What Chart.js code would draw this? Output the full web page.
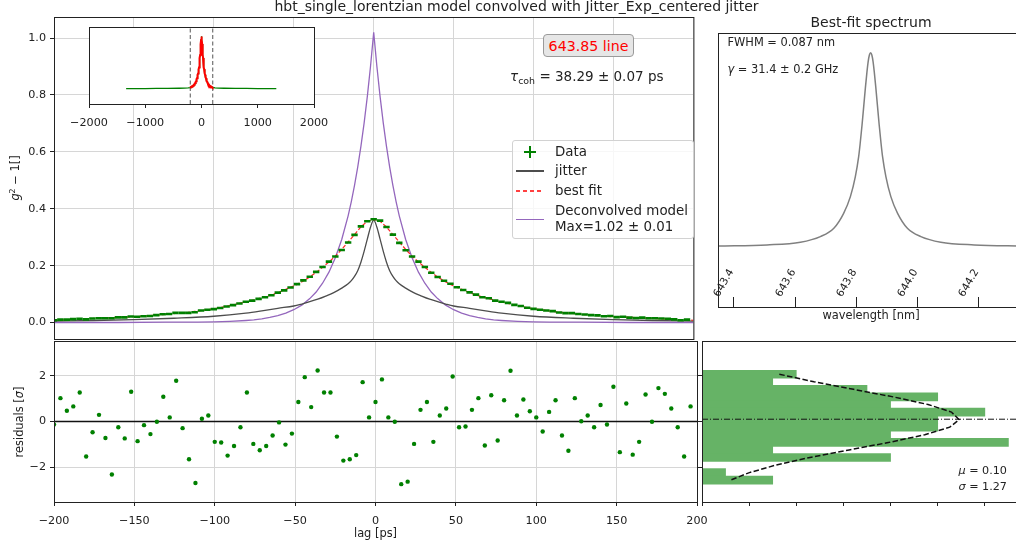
<!DOCTYPE html>
<html>
<head>
<meta charset="utf-8">
<title>hbt single lorentzian fit</title>
<script src="https://cdn.jsdelivr.net/npm/chart.js@4.4.0/dist/chart.umd.min.js"></script>
<style>
  html, body { margin: 0; padding: 0; background: #fff; }
  body { position: relative; width: 1016px; height: 554px; overflow: hidden;
         font-family: 'DejaVu Sans', sans-serif; color: #222; }
  canvas { position: absolute; }
  .t { position: absolute; white-space: nowrap; line-height: 1; z-index: 5; }
  .c { transform: translate(-50%, -50%); }
  .l { transform: translate(0, -50%); }
  .r { transform: translate(-100%, -50%); }
  .v { transform: translate(-50%, -50%) rotate(-90deg); }
  sup { font-size: 0.7em; vertical-align: 0.5em; line-height: 0; }
  sub { font-size: 0.7em; vertical-align: -0.3em; line-height: 0; }
  #legend { position: absolute; left: 512px; top: 140px; width: 182px; height: 99px; box-sizing: border-box;
            border: 1px solid #d2d2d2; border-radius: 3px; background: rgba(255,255,255,0.8);
            z-index: 4; font-size: 13.4px; }
  #legend .h { position: absolute; }
  #tag { position: absolute; left: 543px; top: 34px; width: 91px; height: 23px; box-sizing: border-box;
         border: 1px solid #9a9a9a; border-radius: 4px; background: #e6e6e6; color: #ff0000;
         font-size: 14.2px; display: flex; align-items: center; justify-content: center; z-index: 5; }
</style>
</head>
<body>
<canvas id="main" width="700" height="347" style="left:0;top:0;z-index:1"></canvas>
<canvas id="resid" width="712" height="224" style="left:0;top:330px;z-index:1"></canvas>
<canvas id="hist" width="345" height="224" style="left:690px;top:330px;z-index:1"></canvas>
<canvas id="spec" width="330" height="300" style="left:706px;top:20px;z-index:1"></canvas>
<canvas id="inset" width="280" height="125" style="left:60px;top:15px;z-index:2"></canvas>

<div class="t c" style="left:516.5px;top:6px;font-size:14px">hbt_single_lorentzian model convolved with Jitter_Exp_centered jitter</div>
<div class="t c" style="left:871px;top:21.7px;font-size:14px">Best-fit spectrum</div>
<div id="tag">643.85 line</div>
<div class="t l" style="left:510px;top:76.7px;font-size:13.5px"><i>τ</i><sub>coh</sub> = 38.29 ± 0.07 ps</div>
<div class="t l" style="left:727.5px;top:42.8px;font-size:11.4px">FWHM = 0.087 nm</div>
<div class="t l" style="left:727.5px;top:69.8px;font-size:11.4px"><i>γ</i> = 31.4 ± 0.2 GHz</div>
<div class="t r" style="left:1007px;top:470.8px;font-size:11.2px"><i>μ</i> = 0.10</div>
<div class="t r" style="left:1007px;top:486.7px;font-size:11.2px"><i>σ</i> = 1.27</div>
<div class="t v" style="left:16px;top:178px;font-size:11.4px"><i>g</i><sup>2</sup> − 1[]</div>
<div class="t v" style="left:19.5px;top:421.5px;font-size:11.4px">residuals [<i>σ</i>]</div>
<div class="t c" style="left:375.5px;top:534px;font-size:11.4px">lag [ps]</div>
<div class="t c" style="left:871px;top:315.8px;font-size:11.4px">wavelength [nm]</div>

<div id="legend">
  <div class="h" style="left:11px;top:9.7px;width:12px;height:2px;background:#008000"></div>
  <div class="h" style="left:16px;top:4.7px;width:2px;height:12px;background:#008000"></div>
  <div class="t l" style="left:42px;top:10.7px">Data</div>
  <div class="h" style="left:3px;top:29.3px;width:28px;height:1.4px;background:#4d4d4d"></div>
  <div class="t l" style="left:42px;top:30px">jitter</div>
  <div class="h" style="left:3px;top:49px;width:28px;height:1.5px;background:repeating-linear-gradient(to right,#ff4040 0px,#ff4040 4.5px,#ffffff 4.5px,#ffffff 7px)"></div>
  <div class="t l" style="left:42px;top:50px">best fit</div>
  <div class="h" style="left:3px;top:77.6px;width:28px;height:1.4px;background:#9467bd"></div>
  <div class="t l" style="left:42px;top:70px">Deconvolved model</div>
  <div class="t l" style="left:42px;top:85.7px">Max=1.02 ± 0.01</div>
</div>

<script>
// lag axis of the measured g2 (ps)
const lag = [-200,-196,-192,-188,-184,-180,-176,-172,-168,-164,
  -160,-156,-152,-148,-144,-140,-136,-132,-128,-124,
  -120,-116,-112,-108,-104,-100,-96,-92,-88,-84,
  -80,-76,-72,-68,-64,-60,-56,-52,-48,-44,
  -40,-36,-32,-28,-24,-20,-16,-12,-8,-4,
  0,4,8,12,16,20,24,28,32,36,
  40,44,48,52,56,60,64,68,72,76,
  80,84,88,92,96,100,104,108,112,116,
  120,124,128,132,136,140,144,148,152,156,
  160,164,168,172,176,180,184,188,192,196]

const g2Data = [0.008,0.010,0.010,0.012,0.013,0.011,0.014,0.015,0.015,0.015,
  0.018,0.018,0.021,0.020,0.022,0.023,0.026,0.029,0.030,0.034,
  0.034,0.034,0.036,0.042,0.045,0.047,0.051,0.056,0.061,0.067,
  0.073,0.077,0.083,0.089,0.096,0.105,0.113,0.123,0.135,0.148,
  0.161,0.178,0.195,0.214,0.232,0.255,0.281,0.308,0.338,0.356,
  0.363,0.358,0.336,0.309,0.280,0.254,0.232,0.214,0.195,0.175,
  0.160,0.147,0.136,0.124,0.114,0.106,0.098,0.089,0.085,0.077,
  0.073,0.069,0.062,0.058,0.052,0.048,0.045,0.042,0.040,0.035,
  0.033,0.033,0.030,0.028,0.026,0.025,0.022,0.023,0.019,0.020,
  0.017,0.016,0.017,0.015,0.015,0.014,0.013,0.011,0.008,0.010]

const residuals = [-0.13,1.02,0.47,0.66,1.27,-1.53,-0.47,0.29,-0.72,-2.32,
  -0.25,-0.74,1.30,-0.86,-0.16,-0.55,-0.01,1.08,0.18,1.78,
  -0.29,-1.65,-2.69,0.12,0.26,-0.89,-0.92,-1.49,-1.07,-0.25,
  1.27,-0.98,-1.26,-1.07,-0.61,-0.04,-1.01,-0.53,0.85,1.94,
  0.63,2.23,1.27,1.27,-0.66,-1.71,-1.65,-1.47,1.72,0.18,
  0.85,1.84,0.18,-0.01,-2.74,-2.63,-0.98,0.51,0.85,-0.89,
  0.26,0.57,1.97,-0.25,-0.22,0.51,1.02,-1.05,1.15,-0.83,
  0.93,2.22,0.26,0.96,0.45,0.18,-0.44,0.42,0.93,-0.61,
  -1.28,1.02,0.01,0.26,-0.25,0.72,-0.13,1.52,-1.34,0.79,
  -1.45,-0.89,1.18,-0.01,1.46,1.21,0.57,-0.25,-1.53,0.66]

// best fit, same lags plus the right edge
const fitLag = lag.concat([200])
const fitG2 = [0.008,0.009,0.010,0.011,0.012,0.013,0.014,0.015,0.016,0.017,
  0.018,0.019,0.020,0.021,0.022,0.024,0.026,0.028,0.030,0.032,
  0.034,0.036,0.039,0.042,0.045,0.048,0.052,0.057,0.062,0.067,
  0.072,0.078,0.084,0.090,0.097,0.105,0.114,0.124,0.134,0.146,
  0.160,0.176,0.194,0.213,0.233,0.257,0.283,0.309,0.336,0.356,
  0.362,0.356,0.336,0.309,0.283,0.257,0.233,0.213,0.194,0.176,
  0.160,0.146,0.134,0.124,0.114,0.105,0.097,0.090,0.084,0.078,
  0.072,0.067,0.062,0.057,0.052,0.048,0.045,0.042,0.039,0.036,
  0.034,0.032,0.030,0.028,0.026,0.024,0.022,0.021,0.020,0.019,
  0.018,0.017,0.016,0.015,0.014,0.013,0.012,0.011,0.010,0.009,
  0.008]

const jitterLag = [-200,-175,-150,-125,-100,-80,-70,-60,-50,-45,-40,-35,-30,-25,-20,-16,-14,-12,-10,-8,-6,-4,-2,
  0,2,4,6,8,10,12,14,16,20,25,30,35,40,45,50,60,70,80,100,125,150,175,200]
const jitterG2 = [0.005,0.007,0.010,0.015,0.022,0.033,0.041,0.050,0.058,0.065,0.073,0.082,0.093,0.105,0.121,0.136,0.147,0.162,0.182,0.212,0.250,0.293,0.335,
  0.360,0.335,0.293,0.250,0.212,0.182,0.162,0.147,0.136,0.121,0.105,0.093,0.082,0.073,0.065,0.058,0.050,0.041,0.033,0.022,0.015,0.010,0.007,0.005]

const deconvLag = [-200,-160,-130,-110,-100,-90,-80,-75,-70,-65,-60,-55,-50,-45,-40,-36,-32,-28,-24,-20,-16,-14,-12,-10,-8,-6,-4,-2,
  0,2,4,6,8,10,12,14,16,20,24,28,32,36,40,45,50,55,60,65,70,75,80,90,100,110,130,160,200]
const deconvG2 = [0.000,0.000,0.001,0.001,0.002,0.004,0.007,0.009,0.013,0.018,0.024,0.033,0.045,0.061,0.084,0.107,0.138,0.177,0.228,0.292,0.375,0.425,0.482,0.546,0.619,0.701,0.794,0.900,
  1.020,0.900,0.794,0.701,0.619,0.546,0.482,0.425,0.375,0.292,0.228,0.177,0.138,0.107,0.084,0.061,0.045,0.033,0.024,0.018,0.013,0.009,0.007,0.004,0.002,0.001,0.001,0.000,0.000]

// wide-range data shown in the inset (outside the +-200 ps window)
const insetLeftLag = [-1340,-1200,-1000,-800,-600,-400,-300,-240]
const insetLeftG2 = [0.000,0.001,0.001,0.002,0.002,0.003,0.004,0.006]
const insetRightLag = [240,300,400,600,800,1000,1200,1330]
const insetRightG2 = [0.006,0.004,0.003,0.002,0.002,0.001,0.001,0.000]
const fitWindow = 200

// residual histogram
const binCenter = [2.068,1.737,1.406,1.075,0.744,0.413,0.082,-0.249,-0.580,-0.911,-1.242,-1.573,-1.904,-2.235,-2.566]
const binCount = [4,3,7,10,8,12,10,10,8,13,3,8,0,1,3]
const gaussCount = [3.28,4.75,6.43,8.12,9.59,10.58,10.91,10.51,9.45,7.95,6.24,4.58,3.14,2.01,1.20]
const residMean = 0.10

// best-fit spectrum
const specWl = [643.350,643.510,643.619,643.684,643.728,643.760,643.782,643.798,643.809,643.814,643.820,
  643.826,643.831,643.836,643.840,643.844,643.848,643.852,643.856,643.860,643.865,643.870,
  643.876,643.882,643.887,643.898,643.914,643.936,643.968,644.012,644.077,644.186,644.350]
const specI = [0.003,0.009,0.023,0.052,0.095,0.172,0.258,0.360,0.464,0.533,0.627,
  0.732,0.820,0.900,0.954,0.988,1.000,0.988,0.954,0.900,0.820,0.732,
  0.627,0.533,0.464,0.360,0.258,0.172,0.095,0.052,0.023,0.009,0.003]

// tick values
const lagTicks = [-200,-150,-100,-50,0,50,100,150,200]
const g2Ticks = [0,0.2,0.4,0.6,0.8,1.0]
const residTicks = [-2,0,2]
const countTicks = [0,2,4,6,8,10,12,14]
const insetTicks = [-2000,-1000,0,1000,2000]
const specTicks = [643.4,643.6,643.8,644.0,644.2]

Chart.defaults.font.family = "'DejaVu Sans', sans-serif"
Chart.defaults.font.size = 11.2
Chart.defaults.color = '#222'

const GRID = '#d6d6d6'
const INK = '#222'
const GREEN = '#008000'

const minus = v => String(v).replace('-', '\u2212')
const points = (xs, ys) => xs.map((x, i) => ({ x, y: ys[i] }))

// force the axis band to a given size so the plot areas line up between canvases
function fixSize(size) {
  return scale => {
    if (scale.isHorizontal()) scale.height = size
    else scale.width = size
    scale.paddingLeft = scale.paddingRight = scale.paddingTop = scale.paddingBottom = 0
  }
}
function useTicks(values) {
  return scale => { scale.ticks = values.map(value => ({ value })) }
}

// matplotlib-like box round each axes, optional white face
const framePlugin = {
  id: 'frame',
  beforeDraw(chart, args, opts) {
    if (!opts.fill) return
    const { ctx, chartArea: a } = chart
    ctx.save()
    ctx.fillStyle = opts.fill
    ctx.fillRect(a.left, a.top, a.right - a.left, a.bottom - a.top)
    ctx.restore()
  },
  afterDraw(chart) {
    const { ctx, chartArea: a } = chart
    ctx.save()
    ctx.strokeStyle = INK
    ctx.lineWidth = 1
    ctx.strokeRect(a.left + 0.5, a.top + 0.5, a.right - a.left, a.bottom - a.top)
    ctx.restore()
  }
}

// inward ticks with slanted labels inside the spectrum axes
const specTickPlugin = {
  id: 'specTicks',
  afterDraw(chart) {
    const { ctx, chartArea: a, scales: { x } } = chart
    ctx.save()
    ctx.strokeStyle = INK
    ctx.fillStyle = INK
    ctx.lineWidth = 1
    ctx.font = "10.5px 'DejaVu Sans', sans-serif"
    ctx.textAlign = 'right'
    ctx.textBaseline = 'middle'
    specTicks.forEach(v => {
      const px = Math.round(x.getPixelForValue(v)) + 0.5
      ctx.beginPath()
      ctx.moveTo(px, a.bottom)
      ctx.lineTo(px, a.bottom - 10)
      ctx.stroke()
      ctx.save()
      ctx.translate(px - 2, a.bottom - 37)
      ctx.rotate(-Math.PI / 3)
      ctx.fillText(v.toFixed(1), 0, 0)
      ctx.restore()
    })
    ctx.restore()
  }
}

function baseOptions(padding) {
  return {
    responsive: false,
    animation: false,
    devicePixelRatio: 1,
    events: [],
    layout: { padding },
    plugins: { legend: { display: false }, tooltip: { enabled: false } }
  }
}

// top-left: g2 - 1 with fit, jitter and deconvolved model
const mainOpts = baseOptions({ top: 17, right: 3, bottom: 0, left: 0 })
mainOpts.scales = {
  x: {
    type: 'linear', min: -200, max: 200,
    afterBuildTicks: useTicks(lagTicks), afterFit: fixSize(8),
    ticks: { display: false },
    grid: { color: GRID, drawTicks: false },
    border: { display: false }
  },
  y: {
    type: 'linear', min: -0.058, max: 1.074,
    afterBuildTicks: useTicks(g2Ticks), afterFit: fixSize(54),
    ticks: { padding: 4, callback: v => v.toFixed(1) },
    grid: { color: GRID, tickColor: INK, tickLength: 4 },
    border: { display: false }
  }
}
new Chart(document.getElementById('main'), {
  type: 'scatter',
  data: {
    datasets: [
      {
        label: 'Data', data: points(lag, g2Data),
        pointStyle: 'line', pointRadius: 3.2, pointBorderWidth: 2.6,
        pointBorderColor: GREEN, pointBackgroundColor: GREEN
      },
      {
        label: 'best fit', data: points(fitLag, fitG2), showLine: true,
        borderColor: 'rgba(255,0,0,0.85)', borderWidth: 1.2, borderDash: [4, 2], pointRadius: 0
      },
      {
        label: 'jitter', data: points(jitterLag, jitterG2), showLine: true,
        borderColor: '#4d4d4d', borderWidth: 1.3, pointRadius: 0, cubicInterpolationMode: 'monotone'
      },
      {
        label: 'Deconvolved model', data: points(deconvLag, deconvG2), showLine: true,
        borderColor: '#9467bd', borderWidth: 1.3, pointRadius: 0
      }
    ]
  },
  options: mainOpts,
  plugins: [framePlugin]
})

// bottom-left: normalised residuals
const residOpts = baseOptions({ top: 11, right: 15, bottom: 0, left: 0 })
residOpts.scales = {
  x: {
    type: 'linear', min: -200, max: 200,
    afterBuildTicks: useTicks(lagTicks), afterFit: fixSize(52),
    ticks: { padding: 8, callback: minus },
    grid: { color: GRID, tickColor: INK, tickLength: 4 },
    border: { display: false }
  },
  y: {
    type: 'linear', min: -3.52, max: 3.52,
    afterBuildTicks: useTicks(residTicks), afterFit: fixSize(54),
    ticks: { padding: 4, callback: minus },
    grid: { color: GRID, tickColor: INK, tickLength: 4 },
    border: { display: false }
  }
}
new Chart(document.getElementById('resid'), {
  type: 'scatter',
  data: {
    datasets: [
      {
        data: points(lag, residuals),
        pointRadius: 2.2, pointBorderWidth: 0, pointBackgroundColor: GREEN
      },
      {
        data: [{ x: -200, y: 0 }, { x: 200, y: 0 }], showLine: true,
        borderColor: '#111', borderWidth: 1.5, pointRadius: 0
      }
    ]
  },
  options: residOpts,
  plugins: [framePlugin]
})

// bottom-right: histogram of residuals with gaussian
const histOpts = baseOptions({ top: 11, right: 3, bottom: 0, left: 0 })
histOpts.indexAxis = 'y'
histOpts.scales = {
  x: {
    type: 'linear', min: 0, max: 14, offset: false,
    afterBuildTicks: useTicks(countTicks), afterFit: fixSize(52),
    ticks: { display: false },
    grid: { drawOnChartArea: false, tickColor: INK, tickLength: 4, offset: false },
    border: { display: false }
  },
  y: {
    type: 'linear', min: -3.52, max: 3.52, offset: false,
    afterBuildTicks: useTicks(residTicks), afterFit: fixSize(12),
    ticks: { display: false },
    grid: { drawOnChartArea: false, tickColor: INK, tickLength: 4, offset: false },
    border: { display: false }
  }
}
new Chart(document.getElementById('hist'), {
  type: 'bar',
  data: {
    datasets: [
      {
        type: 'scatter', data: points(gaussCount, binCenter), showLine: true,
        borderColor: '#111', borderWidth: 1.5, borderDash: [5.5, 2.4], pointRadius: 0
      },
      {
        type: 'scatter', data: [{ x: 0, y: residMean }, { x: 14, y: residMean }], showLine: true,
        borderColor: '#111', borderWidth: 1, borderDash: [6, 2, 1, 2], pointRadius: 0
      },
      {
        type: 'bar', indexAxis: 'y', data: binCenter.map((y, i) => ({ x: binCount[i], y })),
        backgroundColor: '#66b366', borderWidth: 0, barThickness: 8, grouped: false
      }
    ]
  },
  options: histOpts,
  plugins: [framePlugin]
})

// top-right: spectrum
const specOpts = baseOptions({ top: 13, right: 12, bottom: 13, left: 12 })
specOpts.scales = {
  x: { type: 'linear', display: false, min: 643.35, max: 644.3485 },
  y: { type: 'linear', display: false, min: -0.311, max: 1.1015 }
}
new Chart(document.getElementById('spec'), {
  type: 'scatter',
  data: {
    datasets: [{
      data: points(specWl, specI), showLine: true,
      borderColor: '#808080', borderWidth: 1.5, pointRadius: 0, cubicInterpolationMode: 'monotone'
    }]
  },
  options: specOpts,
  plugins: [framePlugin, specTickPlugin]
})

// inset: wide lag range
const insetLag = insetLeftLag.concat(lag, insetRightLag)
const insetG2 = insetLeftG2.concat(g2Data, insetRightG2)
const insetOpts = baseOptions({ top: 12, right: 26, bottom: 0, left: 29 })
insetOpts.plugins.frame = { fill: '#ffffff' }
insetOpts.scales = {
  x: {
    type: 'linear', min: -2000, max: 2000,
    afterBuildTicks: useTicks(insetTicks), afterFit: fixSize(36),
    ticks: { padding: 8, callback: minus },
    grid: { drawOnChartArea: false, tickColor: INK, tickLength: 4 },
    border: { display: false }
  },
  y: { type: 'linear', display: false, min: -0.106, max: 0.427 }
}
new Chart(document.getElementById('inset'), {
  type: 'scatter',
  data: {
    datasets: [
      {
        data: points(fitLag, fitG2), showLine: true,
        borderColor: '#ff0000', borderWidth: 2, pointRadius: 0
      },
      {
        data: points(insetLag, insetG2), showLine: true,
        borderColor: GREEN, borderWidth: 1.3, pointRadius: 0
      },
      {
        data: [{ x: -fitWindow, y: -0.106 }, { x: -fitWindow, y: 0.427 }], showLine: true,
        borderColor: '#555', borderWidth: 1, borderDash: [4, 2.5], pointRadius: 0
      },
      {
        data: [{ x: fitWindow, y: -0.106 }, { x: fitWindow, y: 0.427 }], showLine: true,
        borderColor: '#555', borderWidth: 1, borderDash: [4, 2.5], pointRadius: 0
      }
    ]
  },
  options: insetOpts,
  plugins: [framePlugin]
})
</script>
</body>
</html>
